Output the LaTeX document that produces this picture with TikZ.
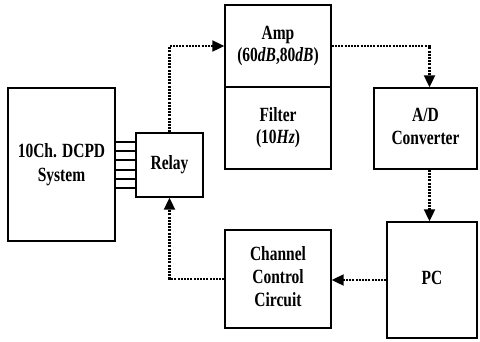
\documentclass[tikz,border=0pt]{standalone}
\usepackage{fontspec}
\setmainfont{Liberation Serif}
\usepackage{graphicx}
\usetikzlibrary{arrows.meta,calc}
\newcommand\tallt[1]{\scalebox{1.0}[1.3]{\begin{tabular}{@{}c@{}}#1\end{tabular}}}
\begin{document}
\begin{tikzpicture}[x=1pt,y=-1pt,
  blk/.style={draw,line width=1.4pt,inner sep=0pt,font=\fontsize{15.5}{17.5}\selectfont\bfseries},
  flow/.style={line width=2.1pt,dash pattern=on 2pt off 1.2pt,-{Triangle[length=12pt,width=11pt]}},
  wire/.style={line width=1.3pt}]
\useasboundingbox (0,0) rectangle (480,341);
\node[blk,minimum width=107pt,minimum height=153pt] (dcpd) at (61.5,164.5) {\tallt{10Ch. DCPD\\[1pt]System}};
\node[blk,minimum width=67pt,minimum height=64pt] (relay) at (169.5,165) {\tallt{Relay}};
\node[blk,minimum width=106pt,minimum height=82pt] (amp) at (278,46) {\tallt{Amp\\(60\textit{dB},80\textit{dB})}};
\node[blk,minimum width=106pt,minimum height=82pt] (filt) at (278,128) {\tallt{Filter\\(10\textit{Hz})}};
\node[blk,minimum width=103pt,minimum height=81pt] (ad) at (425.5,128.5) {\tallt{A/D\\Converter}};
\node[blk,minimum width=90pt,minimum height=116pt] (pc) at (432,280) {\tallt{PC}};
\node[blk,minimum width=106pt,minimum height=98pt] (cc) at (278,279) {\tallt{Channel\\Control\\Circuit}};
\foreach \yy in {142,151,160,170,179,188}
  \draw[wire] (dcpd.east |- 0,\yy) -- (relay.west |- 0,\yy);
\coordinate (adin) at ($(ad.north)+(4,0)$);
\coordinate (adout) at ($(ad.south)+(4,0)$);
\coordinate (pcin) at (adout |- pc.north);
\draw[flow] (relay.north) |- (amp.west);
\draw[flow] (amp.east) -| (adin);
\draw[flow] (adout) -- (pcin);
\draw[flow] (pc.west) -- (pc.west -| cc.east);
\draw[flow] (cc.west) -| (relay.south);
\end{tikzpicture}
\end{document}
